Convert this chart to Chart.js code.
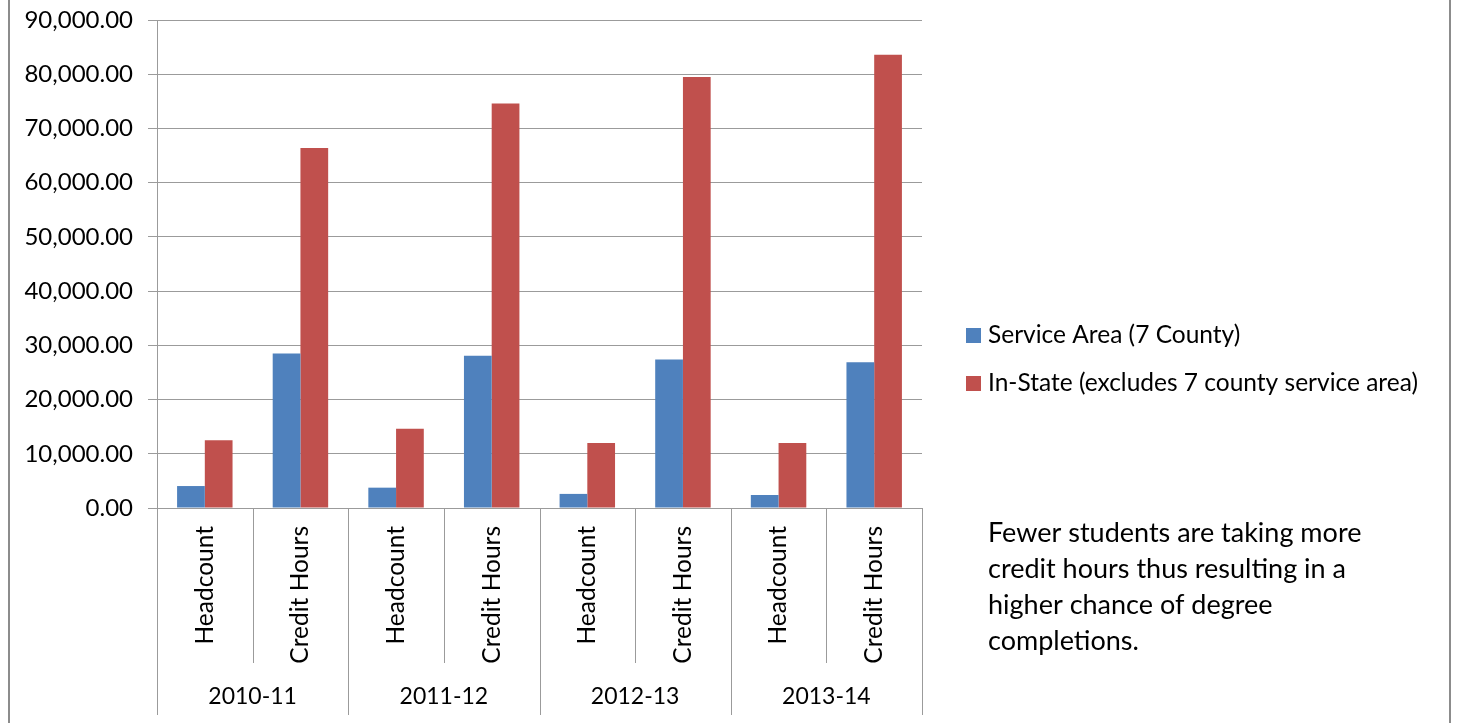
<!DOCTYPE html>
<html>
<head>
<meta charset="utf-8">
<script src="https://cdn.jsdelivr.net/npm/chart.js@4"></script>
<style>
html, body { margin: 0; padding: 0; background: #fff; }
</style>
</head>
<body>
<canvas id="chart" width="1459" height="723"></canvas>
<script>
// data
const years = ['2010-11', '2011-12', '2012-13', '2013-14'];
const measures = ['Headcount', 'Credit Hours'];
const serviceArea = [4050, 28500, 3750, 28100, 2600, 27400, 2400, 26900];
const inState = [12500, 66400, 14600, 74600, 12000, 79500, 12000, 83600];
const seriesNames = ['Service Area (7 County)', 'In-State (excludes 7 county service area)'];
const seriesColors = ['#4F81BD', '#C0504D'];
const yMin = 0, yMax = 90000, yStep = 10000;
const note = [
    'Fewer students are taking more',
    'credit hours thus resulting in a',
    'higher chance of degree',
    'completions.'
];

const labels = [];
years.forEach(y => measures.forEach(m => labels.push([m, y])));

const FONT = 'Lato, Calibri, sans-serif';
const LINE = '#9b9b9b';

const excelAxis = {
    id: 'excelAxis',
    beforeDraw(chart) {
        const ctx = chart.ctx;
        ctx.save();
        ctx.fillStyle = '#fff';
        ctx.fillRect(0, 0, chart.width, chart.height);
        ctx.strokeStyle = '#8c8c8c';
        ctx.lineWidth = 2;
        ctx.beginPath();
        ctx.moveTo(9, 0); ctx.lineTo(9, chart.height);
        ctx.moveTo(1450, 0); ctx.lineTo(1450, chart.height);
        ctx.stroke();
        ctx.restore();
    },
    afterDraw(chart) {
        const ctx = chart.ctx, x = chart.scales.x, area = chart.chartArea;
        const step = x.getPixelForTick(1) - x.getPixelForTick(0);
        const start = x.getPixelForTick(0) - step / 2;

        ctx.save();
        // category separators
        ctx.strokeStyle = LINE;
        ctx.lineWidth = 1;
        for (let i = 0; i <= labels.length; i++) {
            const px = Math.round(start + i * step) + 0.5;
            const bottom = i % 2 === 0 ? 715 : 663;
            ctx.beginPath();
            ctx.moveTo(px, area.bottom);
            ctx.lineTo(px, bottom);
            ctx.stroke();
        }

        // rotated measure labels
        ctx.fillStyle = '#000';
        ctx.font = '24.5px ' + FONT;
        labels.forEach((l, i) => {
            ctx.save();
            ctx.translate(x.getPixelForTick(i), area.bottom + 18);
            ctx.rotate(-Math.PI / 2);
            ctx.textAlign = 'right';
            ctx.textBaseline = 'middle';
            ctx.fillText(l[0], 0, 0);
            ctx.restore();
        });

        // year labels
        ctx.font = '23px ' + FONT;
        ctx.textAlign = 'center';
        ctx.textBaseline = 'middle';
        years.forEach((y, g) => {
            const cx = (x.getPixelForTick(g * 2) + x.getPixelForTick(g * 2 + 1)) / 2;
            ctx.fillText(y, cx, 697);
        });

        // legend
        ctx.font = '24.5px ' + FONT;
        ctx.textAlign = 'left';
        seriesNames.forEach((name, i) => {
            const cy = 335 + i * 48;
            ctx.fillStyle = seriesColors[i];
            ctx.fillRect(966, cy - 7, 15, 15);
            ctx.fillStyle = '#000';
            ctx.fillText(name, 988, cy);
        });

        // note
        ctx.font = '27px ' + FONT;
        note.forEach((line, i) => {
            ctx.fillText(line, 988, 533 + i * 36);
        });
        ctx.restore();
    }
};

new Chart(document.getElementById('chart'), {
    type: 'bar',
    data: {
        labels: labels,
        datasets: [
            { label: seriesNames[0], data: serviceArea, backgroundColor: seriesColors[0] },
            { label: seriesNames[1], data: inState, backgroundColor: seriesColors[1] }
        ]
    },
    options: {
        responsive: false,
        animation: false,
        devicePixelRatio: 1,
        layout: { padding: { left: 0, right: 537, top: 20, bottom: 0 } },
        datasets: { bar: { categoryPercentage: 0.58, barPercentage: 1.0, borderWidth: 0 } },
        plugins: { legend: { display: false }, tooltip: { enabled: false } },
        scales: {
            x: {
                ticks: { display: false },
                grid: { display: false },
                border: { display: false },
                afterFit: s => { s.height = 215; }
            },
            y: {
                min: yMin,
                max: yMax,
                ticks: {
                    stepSize: yStep,
                    padding: 15,
                    color: '#000',
                    font: { family: FONT, size: 24 },
                    callback: v => v.toLocaleString('en-US', { minimumFractionDigits: 2, maximumFractionDigits: 2 })
                },
                grid: { color: LINE, tickLength: 9, tickColor: LINE },
                border: { color: LINE },
                afterFit: s => { s.width = 157; s.paddingTop = 0; s.paddingBottom = 0; }
            }
        }
    },
    plugins: [excelAxis]
});
</script>
</body>
</html>
